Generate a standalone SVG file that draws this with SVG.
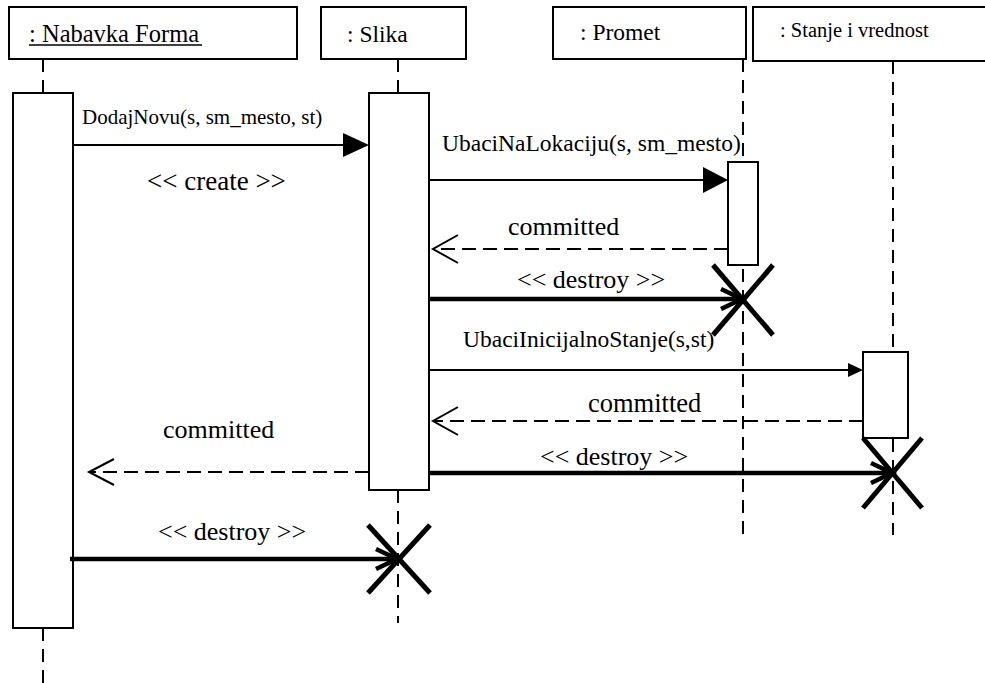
<svg xmlns="http://www.w3.org/2000/svg" width="985" height="683" viewBox="0 0 985 683">
<style>
  .box { fill: #fff; stroke: #000; stroke-width: 2; }
  .life { fill: none; stroke: #000; stroke-width: 2; stroke-dasharray: 13 8; }
  .msg { fill: none; stroke: #000; stroke-width: 2; }
  .ret { fill: none; stroke: #000; stroke-width: 2; stroke-dasharray: 14 7; }
  .del { fill: none; stroke: #000; stroke-width: 4.5; }
  .xmark { fill: none; stroke: #000; stroke-width: 5; }
  .head { fill: #000; stroke: none; }
</style>
<rect width="985" height="683" fill="#fff"/>

<g id="lifelines">
  <line class="life" x1="43" y1="59" x2="43" y2="93"/>
  <line class="life" x1="43" y1="628" x2="43" y2="683"/>
  <line class="life" x1="398" y1="59" x2="398" y2="93"/>
  <line class="life" x1="398" y1="490" x2="398" y2="623"/>
  <line class="life" x1="743" y1="59" x2="743" y2="535"/>
  <line class="life" x1="893" y1="61" x2="893" y2="535"/>
</g>

<g id="node-nabavka" font-family="Liberation Serif, serif" fill="#000">
  <rect class="box" x="9" y="7" width="288" height="52"/>
  <text x="29" y="42" font-size="24.5">: Nabavka Forma</text>
  <line x1="29" y1="45" x2="202" y2="45" stroke="#000" stroke-width="1.5"/>
  <rect class="box" x="13" y="93" width="60" height="535"/>
</g>

<g id="node-slika" font-family="Liberation Serif, serif" fill="#000">
  <rect class="box" x="321" y="7" width="145" height="52"/>
  <text x="347" y="42" font-size="23.5">: Slika</text>
  <rect class="box" x="369" y="93" width="60" height="397"/>
</g>

<g id="node-promet" font-family="Liberation Serif, serif" fill="#000">
  <rect class="box" x="553" y="7" width="193" height="52"/>
  <text x="580" y="40" font-size="23.5">: Promet</text>
  <rect class="box" x="728" y="162" width="30" height="103"/>
</g>

<g id="node-stanje" font-family="Liberation Serif, serif" fill="#000">
  <rect class="box" x="753" y="7" width="240" height="54"/>
  <text x="780" y="37" font-size="20.5">: Stanje i vrednost</text>
  <rect class="box" x="863" y="352" width="45" height="86"/>
</g>

<g id="connectors" font-family="Liberation Serif, serif" fill="#000">
  <line class="msg" x1="73" y1="145" x2="345" y2="145"/>
  <polygon class="head" points="369,145 343,133 343,157"/>
  <text x="82" y="124" font-size="21">DodajNovu(s, sm_mesto, st)</text>
  <text x="147" y="190" font-size="27">&lt;&lt; create &gt;&gt;</text>

  <line class="msg" x1="429" y1="180" x2="705" y2="180"/>
  <polygon class="head" points="728,180 703,167 703,193"/>
  <text x="442" y="151" font-size="23.5">UbaciNaLokaciju(s, sm_mesto)</text>

  <line class="ret" x1="728" y1="249" x2="433" y2="249"/>
  <polyline class="msg" points="458,235 433,249 458,263"/>
  <text x="508" y="235" font-size="26">committed</text>

  <line class="del" x1="429" y1="299" x2="741" y2="299"/>
  <polyline class="del" points="721,289 742,299 721,309"/>
  <line class="xmark" x1="713" y1="265" x2="773" y2="335"/>
  <line class="xmark" x1="773" y1="265" x2="713" y2="335"/>
  <text x="517" y="288" font-size="26">&lt;&lt; destroy &gt;&gt;</text>

  <line class="msg" x1="429" y1="370" x2="850" y2="370"/>
  <polygon class="head" points="863,370 848,363 848,377"/>
  <text x="463" y="347" font-size="23.5">UbaciInicijalnoStanje(s,st)</text>

  <line class="ret" x1="863" y1="421" x2="433" y2="421"/>
  <polyline class="msg" points="458,407 433,421 458,435"/>
  <text x="588" y="412" font-size="26.5">committed</text>

  <line class="del" x1="429" y1="473" x2="891" y2="473"/>
  <polyline class="del" points="871,463 892,473 871,483"/>
  <line class="xmark" x1="863" y1="438" x2="922" y2="508"/>
  <line class="xmark" x1="922" y1="438" x2="863" y2="508"/>
  <text x="540" y="465" font-size="26">&lt;&lt; destroy &gt;&gt;</text>

  <line class="ret" x1="369" y1="472" x2="89" y2="472"/>
  <polyline class="msg" points="114,459 89,472 114,485"/>
  <text x="163" y="438" font-size="26">committed</text>

  <line class="del" x1="70" y1="559" x2="396" y2="559"/>
  <polyline class="del" points="376,549 397,559 376,569"/>
  <line class="xmark" x1="368" y1="525" x2="430" y2="593"/>
  <line class="xmark" x1="430" y1="525" x2="368" y2="593"/>
  <text x="158" y="540" font-size="26">&lt;&lt; destroy &gt;&gt;</text>
</g>
</svg>
